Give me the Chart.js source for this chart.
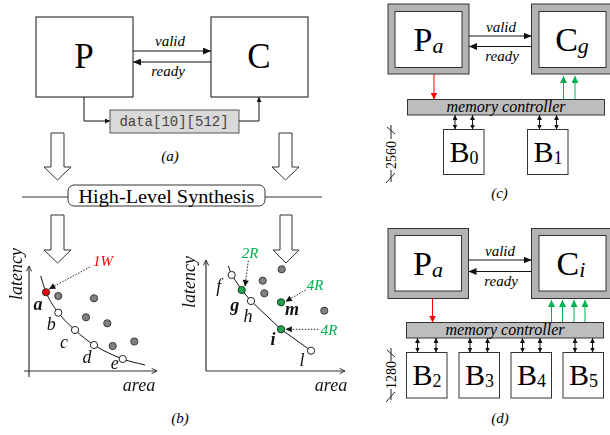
<!DOCTYPE html>
<html>
<head>
<meta charset="utf-8">
<script src="https://cdn.jsdelivr.net/npm/chart.js@4.4.0/dist/chart.umd.min.js"></script>
<style>
  body { margin: 0; background: #fff; }
  #wrap { position: relative; width: 610px; height: 435px; overflow: hidden; font-family: "Liberation Serif", serif; }
  #wrap svg { position: absolute; left: 0; top: 0; }
  #wrap svg text { font-family: "Liberation Serif", serif; }
  canvas { position: absolute; }
</style>
</head>
<body>
<div id="wrap">
<svg width="610" height="435">
  <defs>
    <marker id="ah" markerUnits="userSpaceOnUse" markerWidth="8" markerHeight="7" viewBox="0 0 8 7" refX="8" refY="3.5" orient="auto-start-reverse">
      <path d="M0,0 L8,3.5 L0,7z" fill="#111"/>
    </marker>
    <marker id="ahs" markerUnits="userSpaceOnUse" markerWidth="5" markerHeight="5" viewBox="0 0 5 5" refX="5" refY="2.5" orient="auto-start-reverse">
      <path d="M0,0 L5,2.5 L0,5z" fill="#111"/>
    </marker>
    <marker id="ahr" markerUnits="userSpaceOnUse" markerWidth="7" markerHeight="7" viewBox="0 0 7 7" refX="7" refY="3.5" orient="auto">
      <path d="M0,0 L7,3.5 L0,7z" fill="#f00"/>
    </marker>
    <marker id="ahg" markerUnits="userSpaceOnUse" markerWidth="7" markerHeight="7" viewBox="0 0 7 7" refX="7" refY="3.5" orient="auto">
      <path d="M0,0 L7,3.5 L0,7z" fill="#00b050"/>
    </marker>
  </defs>

  <!-- (a) producer / consumer -->
  <rect x="36" y="17" width="97" height="80" fill="#fff" stroke="#111"/>
  <rect x="211" y="17" width="97" height="80" fill="#fff" stroke="#111"/>
  <text x="84" y="68" font-size="35" text-anchor="middle">P</text>
  <text x="259" y="68" font-size="35" text-anchor="middle">C</text>
  <line x1="133" y1="51" x2="211" y2="51" stroke="#111" marker-end="url(#ah)"/>
  <line x1="211" y1="62" x2="133" y2="62" stroke="#111" marker-end="url(#ah)"/>
  <text x="170" y="46" font-size="15" font-style="italic" text-anchor="middle">valid</text>
  <text x="168" y="76" font-size="15" font-style="italic" text-anchor="middle">ready</text>
  <path d="M84,97 V121 H110" fill="none" stroke="#111" marker-end="url(#ahs)"/>
  <rect x="110" y="110" width="129" height="23" fill="#d9d9d9" stroke="#555"/>
  <text x="174" y="126" font-size="14" style="font-family:'Liberation Mono',monospace" fill="#444" text-anchor="middle">data[10][512]</text>
  <path d="M239,121 H259 V97" fill="none" stroke="#111" marker-end="url(#ahs)"/>
  <text x="170" y="161" font-size="15" font-style="italic" text-anchor="middle">(a)</text>

  <!-- hollow arrows -->
  <g fill="#fff" stroke="#333">
    <path d="M51,133 H64 V167 H71 L57.5,180 L44,167 H51 Z"/>
    <path d="M279,133 H292 V167 H299 L285.5,180 L272,167 H279 Z"/>
    <path d="M51,215 H64 V250 H71 L57.5,263 L44,250 H51 Z"/>
    <path d="M280,215 H292 V250 H299 L286,263 L273,250 H280 Z"/>
  </g>

  <!-- HLS -->
  <line x1="22" y1="197" x2="68" y2="197" stroke="#333"/>
  <line x1="265" y1="197" x2="322" y2="197" stroke="#333"/>
  <rect x="68" y="185" width="197" height="21" rx="6" fill="#fff" stroke="#333"/>
  <text x="166.5" y="203" font-size="19" text-anchor="middle" textLength="176" lengthAdjust="spacingAndGlyphs">High-Level Synthesis</text>
  <text x="180" y="423" font-size="15" font-style="italic" text-anchor="middle">(b)</text>

  <!-- (c) -->
  <rect x="388" y="4" width="81" height="70" fill="#b3b3b3" stroke="#333"/>
  <rect x="395" y="11.5" width="67" height="56" fill="#fff" stroke="#333"/>
  <rect x="531.5" y="4" width="82" height="70" fill="#b3b3b3" stroke="#333"/>
  <rect x="539" y="11.5" width="67" height="56" fill="#fff" stroke="#333"/>
  <text x="428.5" y="51" text-anchor="middle"><tspan font-size="34">P</tspan><tspan font-size="22" font-style="italic" dy="2">a</tspan></text>
  <text x="572" y="51" text-anchor="middle"><tspan font-size="34">C</tspan><tspan font-size="22" font-style="italic" dy="2">g</tspan></text>
  <line x1="469" y1="36" x2="531.5" y2="36" stroke="#111" marker-end="url(#ah)"/>
  <line x1="531.5" y1="46.5" x2="469" y2="46.5" stroke="#111" marker-end="url(#ah)"/>
  <text x="501" y="31.5" font-size="15" font-style="italic" text-anchor="middle">valid</text>
  <text x="502" y="61" font-size="15" font-style="italic" text-anchor="middle">ready</text>
  <line x1="434" y1="74" x2="434" y2="99.5" stroke="#f00" marker-end="url(#ahr)"/>
  <line x1="563.5" y1="99.5" x2="563.5" y2="76" stroke="#00b050" marker-end="url(#ahg)"/>
  <line x1="575" y1="99.5" x2="575" y2="76" stroke="#00b050" marker-end="url(#ahg)"/>
  <rect x="407.5" y="99.5" width="197" height="15.5" fill="#bdbdbd" stroke="#333"/>
  <text x="506" y="111.5" font-size="16" font-style="italic" text-anchor="middle">memory controller</text>
  <g stroke="#111" marker-start="url(#ahs)" marker-end="url(#ahs)">
    <line x1="455" y1="115" x2="455" y2="129.5"/>
    <line x1="472.5" y1="115" x2="472.5" y2="129.5"/>
    <line x1="539.5" y1="115" x2="539.5" y2="129.5"/>
    <line x1="556.5" y1="115" x2="556.5" y2="129.5"/>
  </g>
  <rect x="443.5" y="129.5" width="40.5" height="45" fill="#fff" stroke="#333"/>
  <rect x="527.5" y="129.5" width="40.5" height="45" fill="#fff" stroke="#333"/>
  <text x="464" y="162" text-anchor="middle"><tspan font-size="30">B</tspan><tspan font-size="18" dy="2">0</tspan></text>
  <text x="548" y="162" text-anchor="middle"><tspan font-size="30">B</tspan><tspan font-size="18" dy="2">1</tspan></text>
  <text transform="translate(396,155) rotate(-90)" font-size="14" text-anchor="middle">2560</text>
  <path d="M391,125 L391,139 M387,127 L395,134 M391,170 L391,182 M386,183 L395,173" fill="none" stroke="#222"/>
  <text x="499.5" y="198" font-size="15" font-style="italic" text-anchor="middle">(c)</text>

  <!-- (d) -->
  <rect x="388" y="228.5" width="80.5" height="70" fill="#b3b3b3" stroke="#333"/>
  <rect x="395" y="235.5" width="66.5" height="55.5" fill="#fff" stroke="#333"/>
  <rect x="531.5" y="228.5" width="82" height="70" fill="#b3b3b3" stroke="#333"/>
  <rect x="539" y="235.5" width="67" height="55.5" fill="#fff" stroke="#333"/>
  <text x="428" y="275" text-anchor="middle"><tspan font-size="34">P</tspan><tspan font-size="22" font-style="italic" dy="2">a</tspan></text>
  <text x="571" y="275" text-anchor="middle"><tspan font-size="34">C</tspan><tspan font-size="22" font-style="italic" dy="2">i</tspan></text>
  <line x1="468.5" y1="260" x2="531.5" y2="260" stroke="#111" marker-end="url(#ah)"/>
  <line x1="531.5" y1="271.5" x2="468.5" y2="271.5" stroke="#111" marker-end="url(#ah)"/>
  <text x="500" y="256" font-size="15" font-style="italic" text-anchor="middle">valid</text>
  <text x="501" y="286" font-size="15" font-style="italic" text-anchor="middle">ready</text>
  <line x1="432.5" y1="298.5" x2="432.5" y2="322.5" stroke="#f00" marker-end="url(#ahr)"/>
  <line x1="551.5" y1="322.5" x2="551.5" y2="300" stroke="#00b050" marker-end="url(#ahg)"/>
  <line x1="562.5" y1="322.5" x2="562.5" y2="300" stroke="#00b050" marker-end="url(#ahg)"/>
  <line x1="574" y1="322.5" x2="574" y2="300" stroke="#00b050" marker-end="url(#ahg)"/>
  <line x1="585" y1="322.5" x2="585" y2="300" stroke="#00b050" marker-end="url(#ahg)"/>
  <rect x="406.5" y="322.5" width="197" height="15.5" fill="#bdbdbd" stroke="#333"/>
  <text x="505" y="334.5" font-size="16" font-style="italic" text-anchor="middle">memory controller</text>
  <g stroke="#111" marker-start="url(#ahs)" marker-end="url(#ahs)">
    <line x1="417.5" y1="338" x2="417.5" y2="352.5"/>
    <line x1="436" y1="338" x2="436" y2="352.5"/>
    <line x1="470" y1="338" x2="470" y2="352.5"/>
    <line x1="487.5" y1="338" x2="487.5" y2="352.5"/>
    <line x1="522.5" y1="338" x2="522.5" y2="352.5"/>
    <line x1="540" y1="338" x2="540" y2="352.5"/>
    <line x1="575" y1="338" x2="575" y2="352.5"/>
    <line x1="592.5" y1="338" x2="592.5" y2="352.5"/>
  </g>
  <rect x="406.5" y="352.5" width="40.5" height="45.5" fill="#fff" stroke="#333"/>
  <rect x="459" y="352.5" width="40.5" height="45.5" fill="#fff" stroke="#333"/>
  <rect x="511" y="352.5" width="40.5" height="45.5" fill="#fff" stroke="#333"/>
  <rect x="563" y="352.5" width="40.5" height="45.5" fill="#fff" stroke="#333"/>
  <text x="427" y="385" text-anchor="middle"><tspan font-size="30">B</tspan><tspan font-size="18" dy="2">2</tspan></text>
  <text x="479.5" y="385" text-anchor="middle"><tspan font-size="30">B</tspan><tspan font-size="18" dy="2">3</tspan></text>
  <text x="531.5" y="385" text-anchor="middle"><tspan font-size="30">B</tspan><tspan font-size="18" dy="2">4</tspan></text>
  <text x="583.5" y="385" text-anchor="middle"><tspan font-size="30">B</tspan><tspan font-size="18" dy="2">5</tspan></text>
  <text transform="translate(396,375) rotate(-90)" font-size="14" text-anchor="middle">1280</text>
  <path d="M391,348 L391,361 M387,350 L395,357 M391,389 L391,400 M386,402 L395,392" fill="none" stroke="#222"/>
  <text x="500" y="423" font-size="15" font-style="italic" text-anchor="middle">(d)</text>
</svg>
<canvas id="leftPlot" width="170" height="165" style="left:0px;top:235px"></canvas>
<canvas id="rightPlot" width="185" height="165" style="left:170px;top:235px"></canvas>
</div>

<script>
// (b) left: design points after synthesis with 1 write port
const leftCurveArea = [1.17, 1.7, 2.93, 4.6, 6.5, 9.37, 11.6];
const leftCurveLatency = [9.5, 7.87, 5.83, 4.1, 2.6, 1.2, 0.6];
const leftPickArea = [1.7];
const leftPickLatency = [7.87];
const leftPickLabels = ["a"];
const leftFrontArea = [2.93, 4.6, 6.5, 9.37];
const leftFrontLatency = [5.83, 4.1, 2.6, 1.2];
const leftFrontLabels = ["b", "c", "d", "e"];
const leftOtherArea = [2.93, 6.5, 5.7, 7.83, 8.37, 10.53];
const leftOtherLatency = [7.5, 7.27, 5.37, 4.77, 2.5, 2.95];

// (b) right: consumer design points
const rightCurveArea = [2.23, 2.57, 3.57, 4.5, 7.5, 10.5];
const rightCurveLatency = [10.5, 9.6, 8.1, 7.0, 4.17, 2.03];
const rightFrontArea = [2.57, 4.5, 10.5];
const rightFrontLatency = [9.6, 7.0, 2.03];
const rightFrontLabels = ["f", "h", "l"];
const rightPickArea = [3.57, 7.5, 7.5];
const rightPickLatency = [8.1, 6.87, 4.17];
const rightPickLabels = ["g", "m", "i"];
const rightOtherArea = [7.57, 5.67, 5.83, 11.83];
const rightOtherLatency = [10.17, 9.03, 7.77, 6.03];

const FONT = '"Liberation Serif", serif';

// pixel offsets of the point letters
const labelStyle = {
  a: { dx: -8, dy: 13, bold: true },
  b: { dx: -7, dy: 13 },
  c: { dx: -11, dy: 13 },
  d: { dx: -7, dy: 13 },
  e: { dx: -8, dy: 5 },
  f: { dx: -13, dy: 12 },
  g: { dx: -7, dy: 16, bold: true },
  h: { dx: -3, dy: 16 },
  m: { dx: 11, dy: 8, bold: true },
  i: { dx: -8, dy: 11, bold: true },
  l: { dx: -9, dy: 11 },
};

function toPoints(xs, ys) {
  return xs.map((x, i) => ({ x: x, y: ys[i] }));
}

function drawHead(ctx, x1, y1, x2, y2, size, open) {
  const a = Math.atan2(y2 - y1, x2 - x1);
  ctx.beginPath();
  ctx.moveTo(x2 - size * Math.cos(a - 0.45), y2 - size * Math.sin(a - 0.45));
  ctx.lineTo(x2, y2);
  ctx.lineTo(x2 - size * Math.cos(a + 0.45), y2 - size * Math.sin(a + 0.45));
  if (open) {
    ctx.stroke();
  } else {
    ctx.closePath();
    ctx.fill();
  }
}

const sketchPlugin = {
  id: "sketch",
  afterDatasetsDraw(chart, args, opts) {
    const ctx = chart.ctx;
    const xs = chart.scales.x;
    const ys = chart.scales.y;
    const px = (v) => xs.getPixelForValue(v);
    const py = (v) => ys.getPixelForValue(v);
    const ox = px(0);
    const oy = py(0);

    ctx.save();
    ctx.strokeStyle = "#333";
    ctx.lineWidth = 1.2;
    // axes
    ctx.beginPath();
    ctx.moveTo(ox, py(opts.yFrom));
    ctx.lineTo(ox, py(opts.yTo));
    ctx.moveTo(px(opts.xFrom), oy);
    ctx.lineTo(px(opts.xTo), oy);
    ctx.stroke();
    ctx.lineWidth = 1;
    drawHead(ctx, ox, oy, ox, py(opts.yTo), 6, true);
    drawHead(ctx, ox, oy, px(opts.xTo), oy, 6, true);

    // axis titles
    ctx.fillStyle = "#111";
    ctx.font = "italic 18px " + FONT;
    ctx.textAlign = "center";
    ctx.textBaseline = "middle";
    ctx.fillText("area", ox + opts.areaDx, oy + 15);
    ctx.save();
    ctx.translate(ox + opts.latDx, oy + opts.latDy);
    ctx.rotate(-Math.PI / 2);
    ctx.fillText("latency", 0, 0);
    ctx.restore();

    // point letters
    chart.data.datasets.forEach((ds, di) => {
      if (!ds.letters) return;
      const meta = chart.getDatasetMeta(di);
      meta.data.forEach((el, i) => {
        const s = labelStyle[ds.letters[i]];
        ctx.font = (s.bold ? "italic bold " : "italic ") + "18px " + FONT;
        ctx.fillStyle = "#111";
        ctx.fillText(ds.letters[i], el.x + s.dx, el.y + s.dy);
      });
    });

    // port annotations
    opts.notes.forEach((n) => {
      ctx.font = "italic 15px " + FONT;
      ctx.fillStyle = n.color;
      ctx.fillText(n.text, px(n.at[0]), py(n.at[1]));
      ctx.strokeStyle = "#222";
      ctx.fillStyle = "#111";
      ctx.setLineDash([1.5, 1.5]);
      ctx.beginPath();
      ctx.moveTo(px(n.from[0]), py(n.from[1]));
      ctx.lineTo(px(n.to[0]), py(n.to[1]));
      ctx.stroke();
      ctx.setLineDash([]);
      drawHead(ctx, px(n.from[0]), py(n.from[1]), px(n.to[0]), py(n.to[1]), 7, false);
    });
    ctx.restore();
  },
};

function dotSet(xs, ys, fill, border, letters) {
  return {
    type: "scatter",
    data: toPoints(xs, ys),
    backgroundColor: fill,
    borderColor: border,
    borderWidth: 1,
    pointRadius: 3.6,
    clip: false,
    order: 1,
    letters: letters,
  };
}

function makePlot(id, sets, curveArea, curveLat, tension, sketch) {
  return new Chart(document.getElementById(id), {
    type: "scatter",
    data: {
      datasets: [
        {
          type: "line",
          data: toPoints(curveArea, curveLat),
          borderColor: "#111",
          borderWidth: 1,
          pointRadius: 0,
          tension: tension,
          cubicInterpolationMode: tension ? "monotone" : "default",
          fill: false,
          clip: false,
          order: 5,
        },
      ].concat(sets),
    },
    options: {
      responsive: false,
      animation: false,
      devicePixelRatio: 1,
      layout: { padding: { left: sketch.padLeft, top: 21, right: sketch.padRight, bottom: 29 } },
      scales: {
        x: { type: "linear", min: 0, max: sketch.xMax, display: false },
        y: { type: "linear", min: 0, max: 11.5, display: false },
      },
      plugins: {
        legend: { display: false },
        tooltip: { enabled: false },
        sketch: sketch,
      },
    },
    plugins: [sketchPlugin],
  });
}

makePlot(
  "leftPlot",
  [
    dotSet(leftOtherArea, leftOtherLatency, "#808080", "#3a3a3a"),
    dotSet(leftFrontArea, leftFrontLatency, "#ffffff", "#222", leftFrontLabels),
    dotSet(leftPickArea, leftPickLatency, "#f00000", "#333", leftPickLabels),
  ],
  leftCurveArea, leftCurveLatency, 0.4,
  {
    padLeft: 29, padRight: 11, xMax: 13,
    yFrom: -0.6, yTo: 10.5, xFrom: -0.5, xTo: 12.8,
    areaDx: 110, latDx: -12, latDy: -97,
    notes: [
      { text: "1W", color: "#ff0000", at: [7.4, 10.9], from: [6.1, 10.4], to: [2.0, 8.2] },
    ],
  }
);

makePlot(
  "rightPlot",
  [
    dotSet(rightOtherArea, rightOtherLatency, "#808080", "#3a3a3a"),
    dotSet(rightFrontArea, rightFrontLatency, "#ffffff", "#222", rightFrontLabels),
    dotSet(rightPickArea, rightPickLatency, "#1ea34e", "#1c3a22", rightPickLabels),
  ],
  rightCurveArea, rightCurveLatency, 0,
  {
    padLeft: 36, padRight: 14, xMax: 13.5,
    yFrom: 0, yTo: 11.1, xFrom: 0, xTo: 13.9,
    areaDx: 125, latDx: -16, latDy: -89,
    notes: [
      { text: "2R", color: "#00b050", at: [4.4, 11.7], from: [4.23, 11.03], to: [3.9, 8.45] },
      { text: "4R", color: "#00b050", at: [10.9, 8.5], from: [9.97, 8.1], to: [7.95, 6.95] },
      { text: "4R", color: "#00b050", at: [12.3, 3.95], from: [11.23, 4.17], to: [7.95, 4.17] },
    ],
  }
);
</script>
</body>
</html>
